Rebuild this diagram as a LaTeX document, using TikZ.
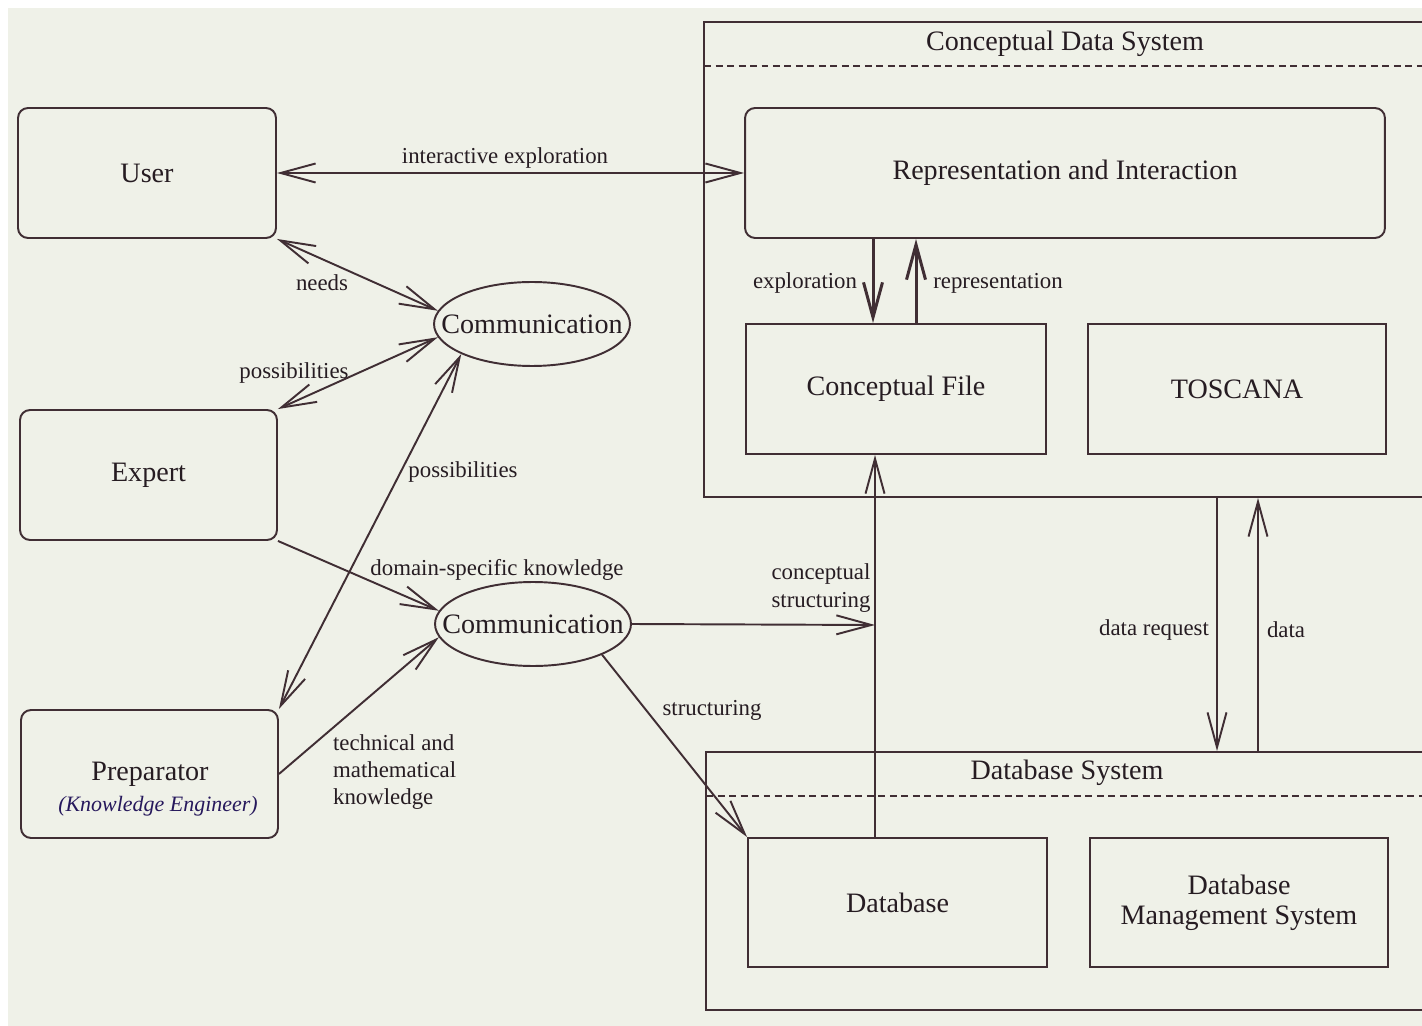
\documentclass[tikz,border=0pt]{standalone}
\usepackage{fontspec}
\setmainfont{Liberation Serif}
\usetikzlibrary{arrows.meta,shapes.geometric}
\definecolor{paper}{RGB}{239,241,232}
\definecolor{ink}{RGB}{64,46,52}
\definecolor{txt}{RGB}{38,28,34}
\definecolor{pen}{RGB}{38,24,92}
\begin{document}
\begin{tikzpicture}[x=0.02cm,y=-0.02cm,
  >={Straight Barb[length=0.7cm,width=0.38cm]},
  line/.style={draw=ink,line width=1.1pt},
  box/.style={line,rectangle,inner sep=0pt,text=txt,font=\fontsize{16}{19}\selectfont},
  rbox/.style={box,rounded corners=0.2cm},
  comm/.style={line,ellipse,minimum width=3.92cm,minimum height=1.68cm,inner sep=0pt},
  title/.style={text=txt,font=\fontsize{16}{19}\selectfont,inner sep=1pt},
  lbl/.style={text=txt,font=\fontsize{13}{15.5}\selectfont,inner sep=1pt},
  hand/.style={text=pen,font=\fontsize{12.5}{15}\selectfont\itshape,inner sep=1pt},
  arr/.style={line,->},
  biarr/.style={line,<->},
  heavy/.style={line width=1.7pt},
  frame dash/.style={line,dash pattern=on 0.14cm off 0.09cm},
]
\useasboundingbox (0,0) rectangle (1422,1026);
\fill[white] (0,0) rectangle (1422,1026);
\fill[paper] (8,8) rectangle (1422,1026);

% outer system frames (open to the right)
\node[box,minimum width=14.72cm,minimum height=9.5cm] (cds) at (1072,259.5) {};
\node[box,minimum width=14.68cm,minimum height=5.16cm] (dbs) at (1073,881) {};
\coordinate (cdsdash) at (704,66);
\coordinate (dbsdash) at (706,796);
\draw[frame dash] (cdsdash) -- (cdsdash -| cds.east);
\draw[frame dash] (dbsdash) -- (dbsdash -| dbs.east);
\node[title] (cdstitle) at (1065,44) {Conceptual Data System};
\node[title] (dbstitle) at (1067,773) {Database System};

% actors
\node[rbox,minimum width=5.16cm,minimum height=2.6cm] (User) at (147,173) {User};
\node[rbox,minimum width=5.14cm,minimum height=2.6cm] (Expert) at (148.5,475) {Expert};
\node[rbox,minimum width=5.14cm,minimum height=2.56cm] (Prep) at (149.5,774) {};
\node[title] (prepname) at (150,774) {Preparator};
\node[hand] (prepnote) at (158,806) {(Knowledge Engineer)};

% communication
\node[comm,label={[title]center:Communication}] (Comm1) at (532,324) {};
\node[comm,label={[title]center:Communication}] (Comm2) at (533,624) {};

% conceptual data system parts
\node[rbox,minimum width=12.8cm,minimum height=2.6cm] (Rep) at (1065,173) {Representation and Interaction};
\node[box,minimum width=6cm,minimum height=2.6cm] (CFile) at (896,389) {Conceptual File};
\node[box,minimum width=5.96cm,minimum height=2.6cm] (Toscana) at (1237,389) {TOSCANA};

% database system parts
\node[box,minimum width=5.98cm,minimum height=2.58cm] (Database) at (897.5,902.5) {Database};
\node[box,minimum width=5.96cm,minimum height=2.58cm,align=center] (DBMS) at (1239,902.5) {Database\\[-2pt]Management System};

% helper abscissas for vertical connectors
\coordinate (cs) at (875,625);
\coordinate (ex) at (873,0);
\coordinate (rp) at (916,0);
\coordinate (dr) at (1217,0);
\coordinate (dt) at (1258,0);

% connectors
\draw[biarr] (User.east) -- (Rep.west);
\node[lbl] (l1) at (505,158) {interactive exploration};

\draw[biarr] (User.south east) -- (Comm1.172);
\node[lbl] (l2) at (322,283) {needs};

\draw[biarr] (Expert.north east) -- (Comm1.188);
\node[lbl] (l3) at (294,373) {possibilities};

\draw[biarr] (Prep.north east) -- (Comm1.203);
\node[lbl] (l4) at (463,472) {possibilities};

\draw[arr] (Expert.south east) -- (Comm2.172);
\node[lbl] (l5) at (497,570) {domain-specific knowledge};

\draw[arr] (Prep.east) -- (Comm2.188);
\node[lbl,align=left,anchor=west] (l6) at (331,772) {technical and\\mathematical\\knowledge};

\draw[arr] (Comm2.east) -- (cs);
\node[lbl,align=left] (l7) at (821,588) {conceptual\\structuring};

\draw[arr] (Comm2.336) -- (Database.north west);
\node[lbl] (l8) at (712,710) {structuring};

\draw[arr] (cs |- Database.north) -- (cs |- CFile.south);

\draw[arr,heavy] (ex |- Rep.south) -- (ex |- CFile.north);
\node[lbl] (l9) at (805,283) {exploration};
\draw[arr,heavy] (rp |- CFile.north) -- (rp |- Rep.south);
\node[lbl] (l10) at (998,283) {representation};

\draw[arr] (dr |- cds.south) -- (dr |- dbs.north);
\node[lbl] (l11) at (1154,630) {data request};
\draw[arr] (dt |- dbs.north) -- (dt |- cds.south);
\node[lbl] (l12) at (1286,630) {data};
\end{tikzpicture}
\end{document}
